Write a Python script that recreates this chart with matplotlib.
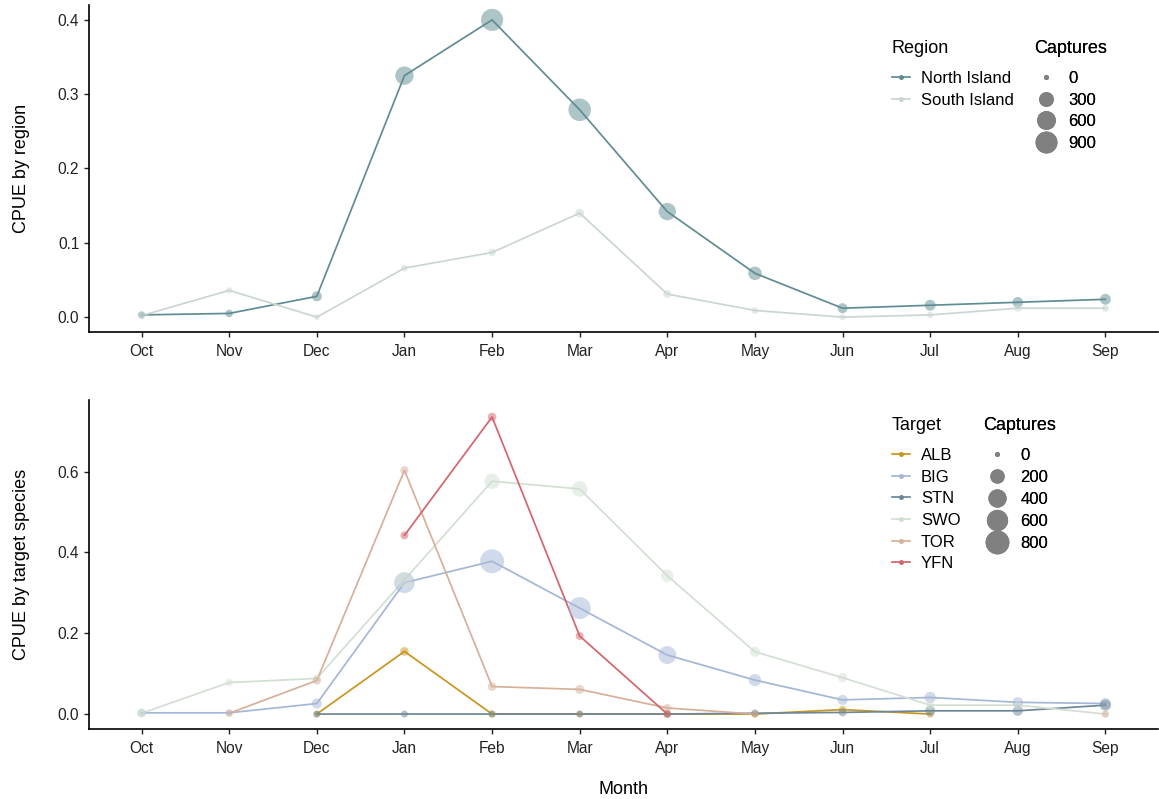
import numpy as np
import matplotlib
matplotlib.use("Agg")
import matplotlib.pyplot as plt
from matplotlib.lines import Line2D

plt.rcParams['font.family'] = ['Liberation Sans', 'DejaVu Sans']

months = ["Oct", "Nov", "Dec", "Jan", "Feb", "Mar", "Apr", "May", "Jun", "Jul", "Aug", "Sep"]
nan = np.nan

# ---- top panel: CPUE by region ----
regions = ["North Island", "South Island"]
region_colors = ["#5F8D92", "#C9D6D3"]
north_cpue = [0.003, 0.005, 0.028, 0.325, 0.400, 0.279, 0.142, 0.059, 0.012, 0.016, 0.020, 0.024]
south_cpue = [0.002, 0.036, 0.000, 0.066, 0.087, 0.140, 0.031, 0.009, 0.000, 0.003, 0.012, 0.012]
north_capt = [15, 20, 80, 560, 920, 960, 480, 230, 80, 110, 100, 110]
south_capt = [10, 5, 2, 10, 20, 50, 30, 10, 5, 8, 15, 15]
top_size_breaks = [0, 300, 600, 900]

# ---- bottom panel: CPUE by target species ----
targets = ["ALB", "BIG", "STN", "SWO", "TOR", "YFN"]
target_colors = ["#C8961E", "#A5B6D6", "#6E8798", "#D3DFD2", "#D6B09A", "#D2666C"]
alb_cpue = [nan, nan, 0.000, 0.155, 0.000, 0.000, 0.000, 0.000, 0.011, 0.000, nan, nan]
big_cpue = [0.003, 0.003, 0.026, 0.325, 0.378, 0.262, 0.146, 0.084, 0.035, 0.041, 0.029, 0.026]
stn_cpue = [nan, nan, 0.000, 0.000, 0.000, 0.000, 0.000, 0.002, 0.004, 0.008, 0.008, 0.022]
swo_cpue = [0.002, 0.078, 0.088, 0.332, 0.576, 0.557, 0.342, 0.154, 0.090, 0.022, 0.022, 0.000]
tor_cpue = [nan, 0.002, 0.083, 0.603, 0.068, 0.061, 0.015, 0.000, nan, nan, nan, 0.000]
yfn_cpue = [nan, nan, nan, 0.442, 0.735, 0.193, 0.000, nan, nan, nan, nan, nan]
alb_capt = [0, 0, 5, 30, 10, 5, 5, 10, 15, 10, 0, 0]
big_capt = [30, 10, 60, 560, 820, 660, 380, 120, 60, 90, 70, 80]
stn_capt = [0, 0, 10, 10, 10, 10, 10, 15, 20, 60, 60, 90]
swo_capt = [20, 15, 20, 250, 250, 260, 130, 60, 40, 20, 20, 10]
tor_capt = [0, 10, 25, 25, 30, 40, 20, 10, 0, 0, 0, 10]
yfn_capt = [0, 0, 0, 20, 30, 20, 20, 0, 0, 0, 0, 0]
bottom_size_breaks = [0, 200, 400, 600, 800]

PX = 0.72  # points per pixel at dpi 100


def diam_px(c, cmax, dmin, dmax):
    c = np.asarray(c, dtype=float)
    return dmin + (dmax - dmin) * np.sqrt(np.clip(c, 0, None) / cmax)


def size_area(c, cmax, dmin, dmax):
    return (diam_px(c, cmax, dmin, dmax) * PX) ** 2


fig = plt.figure(figsize=(11.59, 7.99), dpi=100)
L, R = 89 / 1159, 1158 / 1159
ax1 = fig.add_axes([L, 1 - 332 / 799, R - L, (332 - 5) / 799])
ax2 = fig.add_axes([L, 1 - 729 / 799, R - L, (729 - 400) / 799])

x = np.arange(len(months))
LW = 1.25
ALPHA = 0.5

# top
top_cmax, top_dmin, top_dmax = 960, 5, 22.5
for name, col, y, c in zip(regions, region_colors, [north_cpue, south_cpue], [north_capt, south_capt]):
    ax1.plot(x, y, color=col, lw=LW, zorder=2)
    ax1.scatter(x, y, s=size_area(c, top_cmax, top_dmin, top_dmax), color=col, alpha=ALPHA,
                edgecolors='none', zorder=3)

# bottom
bot_cmax, bot_dmin, bot_dmax = 820, 5, 24
series = [alb_cpue, big_cpue, stn_cpue, swo_cpue, tor_cpue, yfn_cpue]
capts = [alb_capt, big_capt, stn_capt, swo_capt, tor_capt, yfn_capt]
for i, (name, col, y, c) in enumerate(zip(targets, target_colors, series, capts)):
    y = np.asarray(y, dtype=float)
    ax2.plot(x, y, color=col, lw=LW, zorder=2 + i * 0.01)
    m = ~np.isnan(y)
    ax2.scatter(x[m], y[m], s=size_area(np.asarray(c)[m], bot_cmax, bot_dmin, bot_dmax), color=col,
                alpha=ALPHA, edgecolors='none', zorder=3 + i * 0.01)

ax1.set_ylim(-0.02, 0.42)
ax1.set_yticks([0.0, 0.1, 0.2, 0.3, 0.4])
ax2.set_ylim(-0.037, 0.777)
ax2.set_yticks([0.0, 0.2, 0.4, 0.6])

for ax in (ax1, ax2):
    ax.set_xlim(-0.6, 11.6)
    ax.set_xticks(x)
    ax.set_xticklabels(months)
    ax.yaxis.set_major_formatter(matplotlib.ticker.FormatStrFormatter('%.1f'))
    for s in ("top", "right"):
        ax.spines[s].set_visible(False)
    for s in ("left", "bottom"):
        ax.spines[s].set_linewidth(1.2)
        ax.spines[s].set_color("black")
    ax.tick_params(axis='both', length=3.5, width=1.0, color='#222222', labelsize=11.2,
                   labelcolor='#222222', pad=3.5)
    ax.tick_params(axis='x', pad=5)
    ax.set_facecolor('white')

ax1.set_ylabel("CPUE by region", fontsize=13)
ax2.set_ylabel("CPUE by target species", fontsize=13)
ax1.yaxis.set_label_coords(-0.055, 0.5)
ax2.yaxis.set_label_coords(-0.055, 0.5)
ax2.set_xlabel("Month", fontsize=13, labelpad=18)

# legends
def key_handle(col):
    return Line2D([0], [0], color=col, lw=LW, marker='o', markersize=5 * PX,
                  markerfacecolor=col, markeredgecolor='none')


def size_handle(c, cmax, dmin, dmax):
    d = float(diam_px([c], cmax, dmin, dmax)[0]) * PX
    return Line2D([0], [0], linestyle='', marker='o', markersize=d,
                  markerfacecolor='#808080', markeredgecolor='none')


base_kw = dict(frameon=False, loc='upper left', borderpad=0, fontsize=12, title_fontsize=13,
               alignment='left', borderaxespad=0)


def make_legend(ax, handles, labels, title, anchor, spacing, title_sep, hlen, hpad):
    lg = ax.legend(handles, labels, title=title, bbox_to_anchor=anchor, labelspacing=spacing,
                   handlelength=hlen, handletextpad=hpad, **base_kw)
    lg._legend_box.sep = title_sep
    ax.add_artist(lg)
    return lg


make_legend(ax1, [key_handle(c) for c in region_colors], regions, "Region",
            (0.751, 0.893), 0.42, 10, 1.1, 0.65)
make_legend(ax1, [size_handle(b, top_cmax, top_dmin, top_dmax) for b in top_size_breaks],
            [str(b) for b in top_size_breaks], "Captures", (0.884, 0.893), 0.40, 10, 1.45, 0.6)

make_legend(ax2, [key_handle(c) for c in target_colors], targets, "Target",
            (0.751, 0.948), 0.40, 10, 1.1, 0.65)
make_legend(ax2, [size_handle(b, bot_cmax, bot_dmin, bot_dmax) for b in bottom_size_breaks],
            [str(b) for b in bottom_size_breaks], "Captures", (0.836, 0.948), 0.42, 10, 1.7, 0.55)

fig.savefig("out.png", dpi=100, facecolor='white')
